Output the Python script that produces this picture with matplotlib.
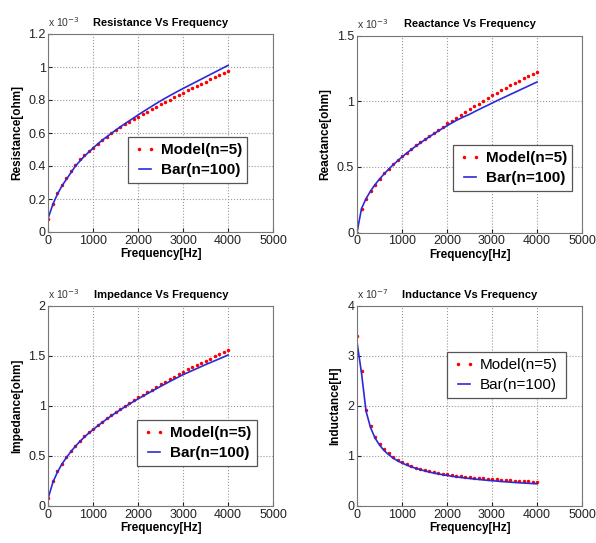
import numpy as np
import matplotlib.pyplot as plt

plt.rcParams['font.family'] = ['Liberation Sans', 'DejaVu Sans']

freq = np.arange(0, 4001, 100)

# values (scaled: R, X, Z in 1e-3 ohm, L in 1e-7 H)
res_model = [0.08, 0.17, 0.235, 0.285, 0.33, 0.37, 0.405, 0.44, 0.465, 0.49,
             0.512, 0.535, 0.556, 0.577, 0.597, 0.616, 0.634, 0.652, 0.669, 0.685,
             0.70, 0.715, 0.73, 0.745, 0.76, 0.775, 0.789, 0.803, 0.817, 0.831,
             0.845, 0.859, 0.873, 0.886, 0.899, 0.912, 0.925, 0.938, 0.950, 0.963, 0.975]
res_bar = [0.09, 0.17, 0.23, 0.28, 0.32, 0.36, 0.40, 0.43, 0.46, 0.485,
           0.51, 0.535, 0.557, 0.578, 0.598, 0.618, 0.637, 0.656, 0.674, 0.692,
           0.71, 0.728, 0.745, 0.762, 0.779, 0.795, 0.811, 0.826, 0.841, 0.856,
           0.87, 0.884, 0.898, 0.912, 0.926, 0.94, 0.954, 0.968, 0.982, 0.996, 1.01]

reac_model = [0.0, 0.18, 0.255, 0.315, 0.365, 0.41, 0.45, 0.485, 0.52, 0.55,
              0.58, 0.608, 0.636, 0.663, 0.689, 0.715, 0.738, 0.761, 0.784, 0.807,
              0.83, 0.852, 0.874, 0.896, 0.918, 0.94, 0.961, 0.982, 1.003, 1.024,
              1.045, 1.064, 1.083, 1.102, 1.121, 1.14, 1.157, 1.174, 1.19, 1.207, 1.223]
reac_bar = [0.0, 0.182, 0.257, 0.315, 0.364, 0.407, 0.445, 0.481, 0.514, 0.545,
            0.575, 0.603, 0.63, 0.656, 0.68, 0.704, 0.727, 0.75, 0.771, 0.793,
            0.813, 0.833, 0.852, 0.869, 0.885, 0.90, 0.918, 0.935, 0.952, 0.968,
            0.985, 1.002, 1.018, 1.034, 1.05, 1.066, 1.082, 1.098, 1.114, 1.13, 1.146]

imp_model = [0.08, 0.248, 0.347, 0.425, 0.492, 0.552, 0.605, 0.655, 0.698, 0.737,
             0.774, 0.81, 0.845, 0.879, 0.912, 0.944, 0.973, 1.002, 1.031, 1.059,
             1.086, 1.112, 1.139, 1.165, 1.192, 1.218, 1.243, 1.269, 1.294, 1.319,
             1.344, 1.366, 1.388, 1.41, 1.432, 1.454, 1.475, 1.496, 1.517, 1.538, 1.56]
imp_bar = [0.09, 0.24, 0.34, 0.42, 0.485, 0.545, 0.598, 0.646, 0.69, 0.73,
           0.767, 0.803, 0.837, 0.87, 0.902, 0.933, 0.962, 0.991, 1.019, 1.046,
           1.073, 1.098, 1.123, 1.148, 1.173, 1.197, 1.221, 1.245, 1.268, 1.291,
           1.314, 1.334, 1.354, 1.374, 1.394, 1.414, 1.433, 1.452, 1.471, 1.49, 1.51]

ind_model = [3.4, 2.7, 1.93, 1.6, 1.39, 1.25, 1.14, 1.06, 0.99, 0.93,
             0.88, 0.84, 0.80, 0.77, 0.745, 0.72, 0.70, 0.68, 0.665, 0.65,
             0.635, 0.622, 0.61, 0.60, 0.59, 0.58, 0.57, 0.56, 0.552, 0.545,
             0.538, 0.531, 0.524, 0.518, 0.512, 0.507, 0.502, 0.497, 0.493, 0.489, 0.485]
ind_bar = [3.28, 2.66, 1.9, 1.57, 1.36, 1.22, 1.11, 1.03, 0.96, 0.905,
           0.86, 0.82, 0.785, 0.755, 0.728, 0.703, 0.68, 0.66, 0.642, 0.626,
           0.61, 0.596, 0.583, 0.571, 0.56, 0.55, 0.54, 0.531, 0.522, 0.514,
           0.506, 0.498, 0.491, 0.484, 0.477, 0.471, 0.465, 0.459, 0.454, 0.449, 0.444]

W, H = 596.0, 543.0
fig = plt.figure(figsize=(5.96, 5.43), dpi=100)


def px(l, t, r, b):
    return [l / W, 1 - b / H, (r - l) / W, (b - t) / H]


panels = [
    (px(48.5, 34, 273, 232), res_model, res_bar, 1.2, np.arange(0, 1.21, 0.2),
     ['0', '0.2', '0.4', '0.6', '0.8', '1', '1.2'],
     'Resistance Vs Frequency', 'Resistance[ohm]', '-3', (128, 137, 247, 193), 'bold'),
    (px(357, 35.5, 582, 232.5), reac_model, reac_bar, 1.5, [0, 0.5, 1, 1.5],
     ['0', '0.5', '1', '1.5'],
     'Reactance Vs Frequency', 'Reactance[ohm]', '-3', (453, 145, 572, 200), 'bold'),
    (px(48.5, 306, 273, 506), imp_model, imp_bar, 2.0, [0, 0.5, 1, 1.5, 2],
     ['0', '0.5', '1', '1.5', '2'],
     'Impedance Vs Frequency', 'Impedance[ohm]', '-3', (137, 420, 257, 475), 'bold'),
    (px(357, 306, 582, 506), ind_model, ind_bar, 4.0, [0, 1, 2, 3, 4],
     ['0', '1', '2', '3', '4'],
     'Inductance Vs Frequency', 'Inductance[H]', '-7', (447, 352, 566, 407), 'normal'),
]

for rect, ym, yb, ymax, yt, ytl, title, ylab, expo, leg, lw in panels:
    ax = fig.add_axes(rect)
    ax.plot(freq, ym, 'r.', markersize=3, label='Model(n=5)')
    ax.plot(freq, yb, '-', color='#2a2ad8', linewidth=1.2, label='Bar(n=100)')
    ax.set_xlim(0, 5000)
    ax.set_ylim(0, ymax)
    ax.set_xticks([0, 1000, 2000, 3000, 4000, 5000])
    ax.set_yticks(yt)
    ax.set_yticklabels(ytl)
    ax.tick_params(direction='in', labelsize=9, length=3, colors='#222222', pad=2)
    ax.grid(True, linestyle=':', color='#999999', linewidth=0.8)
    for s in ax.spines.values():
        s.set_color('#777777')
        s.set_linewidth(0.8)
    ax.set_xlabel('Frequency[Hz]', fontsize=8.5, fontweight='bold', labelpad=1)
    ax.set_ylabel(ylab, fontsize=8.5, fontweight='bold', labelpad=4)
    ax.set_title(title, fontsize=8, fontweight='bold', pad=6)
    ax.text(0.0, 1.025, 'x 10$^{' + expo + '}$', transform=ax.transAxes,
            fontsize=7.5, ha='left', va='bottom', color='#333333')
    l, t, r, b = leg
    lg = ax.legend(loc='upper left', bbox_to_anchor=(l / W, 1 - b / H, (r - l) / W, (b - t) / H),
                   bbox_transform=fig.transFigure, mode='expand', numpoints=2,
                   prop={'size': 11, 'weight': lw}, fancybox=False, framealpha=1,
                   edgecolor='#555555', borderpad=0.4, labelspacing=0.4,
                   handlelength=1.4, handletextpad=0.35, borderaxespad=0)
    lg.get_frame().set_linewidth(0.9)

plt.savefig('out.png', dpi=100)
